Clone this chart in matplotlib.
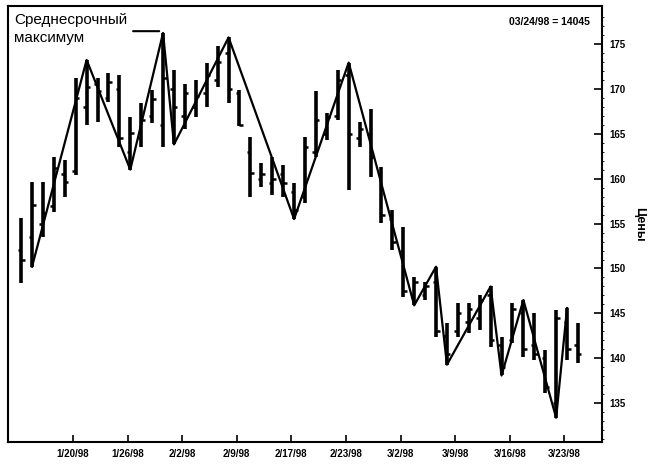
import numpy as np
import matplotlib
matplotlib.use("Agg")
import matplotlib.pyplot as plt

# daily bars
highs = [155.6, 159.6, 159.6, 162.4, 162.1, 171.2, 173.2, 171.2, 171.8, 171.5,
         166.9, 168.4, 169.9, 176.2, 172.1, 170.5, 171.0, 172.9, 174.7, 175.7,
         169.9, 164.6, 161.7, 162.4, 161.5, 159.5, 164.6, 169.7, 167.3, 172.1,
         172.9, 166.3, 167.7, 161.3, 156.5, 154.6, 149.0, 148.5, 150.2, 143.9,
         146.2, 146.2, 147.1, 148.0, 142.4, 146.2, 146.5, 145.0, 140.9, 145.4,
         145.6, 143.9]
lows = [148.4, 150.2, 153.5, 156.3, 157.9, 160.4, 166.0, 166.3, 168.5, 163.5,
        161.0, 163.5, 166.2, 163.5, 163.8, 165.5, 166.9, 168.0, 170.2, 168.4,
        165.8, 158.0, 159.1, 158.2, 158.0, 155.5, 157.3, 162.4, 164.3, 166.5,
        158.7, 163.5, 160.2, 155.1, 152.1, 146.8, 145.9, 146.5, 142.4, 139.3,
        142.4, 142.8, 143.2, 141.3, 138.1, 141.7, 140.1, 139.8, 136.1, 133.4,
        139.8, 139.5]
opens = [152.1, 153.5, 155.0, 157.0, 160.5, 160.8, 168.0, 170.5, 169.0, 170.0,
         163.0, 164.5, 167.0, 166.0, 170.0, 167.0, 168.0, 169.5, 171.0, 174.0,
         169.5, 163.0, 160.0, 159.5, 160.5, 158.5, 158.0, 163.0, 165.0, 167.0,
         171.5, 164.5, 165.0, 160.5, 155.5, 152.0, 147.0, 147.0, 148.5, 142.5,
         143.0, 144.0, 144.5, 147.0, 141.5, 142.0, 145.0, 141.5, 140.0, 135.0,
         144.0, 141.5]
closes = [151.0, 157.1, 156.2, 161.2, 159.6, 169.0, 170.2, 169.7, 170.8, 164.5,
          165.1, 166.5, 168.8, 171.2, 168.0, 169.5, 169.2, 171.5, 173.0, 170.0,
          166.0, 160.6, 160.5, 160.0, 159.5, 156.5, 163.5, 166.5, 166.8, 171.0,
          165.0, 165.5, 162.4, 156.0, 153.0, 147.5, 148.5, 148.0, 143.0, 140.5,
          145.0, 145.5, 146.5, 142.0, 139.0, 145.5, 141.0, 140.5, 136.8, 144.5,
          141.0, 140.5]

# swing (zigzag) line: bar index and price
swing_idx = [1, 6, 10, 13, 14, 19, 25, 30, 36, 38, 39, 43, 44, 46, 49, 50]
swing_px = [150.2, 173.2, 161.0, 176.2, 163.8, 175.7, 155.5, 172.9, 145.9,
            150.2, 139.3, 148.0, 138.1, 146.5, 133.4, 145.6]

date_labels = ["1/20/98", "1/26/98", "2/2/98", "2/9/98", "2/17/98",
               "2/23/98", "3/2/98", "3/9/98", "3/16/98", "3/23/98"]
price_ticks = [135, 140, 145, 150, 155, 160, 165, 170, 175]

idx = np.arange(len(highs))

fig = plt.figure(figsize=(6.58, 4.69), dpi=100)
ax = fig.add_axes([8 / 658, 1 - 442 / 469, (602 - 8) / 658, (442 - 6) / 469])

# OHLC bars
ax.vlines(idx, lows, highs, color="black", lw=2.6)
ax.hlines(opens, idx - 0.32, idx, color="black", lw=1.8)
ax.hlines(closes, idx, idx + 0.32, color="black", lw=1.8)

# zigzag
ax.plot(swing_idx, swing_px, color="black", lw=1.6)

ax.set_xlim(-1.2, 53.2)
ax.set_ylim(130.7, 179.2)

tick_font = ["Liberation Sans Narrow", "Liberation Sans", "DejaVu Sans"]

ax.set_xticks(np.arange(len(date_labels)) * 5 + 4.75)
ax.set_xticklabels(date_labels, fontsize=7, fontweight="bold", family=tick_font)
ax.tick_params(axis="x", direction="in", length=5, width=1.2, pad=5)

ax.yaxis.tick_right()
ax.set_yticks(price_ticks)
ax.set_yticklabels([str(p) for p in price_ticks], fontsize=7, fontweight="bold", family=tick_font)
ax.set_yticks(np.arange(131, 179), minor=True)
ax.tick_params(axis="y", which="major", direction="in", length=6, width=1.2, pad=5)
ax.tick_params(axis="y", which="minor", direction="out", length=1.5, width=0.6)
ax.tick_params(axis="x", which="minor", bottom=False)

for s in ax.spines.values():
    s.set_linewidth(1.5)
    s.set_color("black")

ax.yaxis.set_label_position("right")
ax.set_ylabel("Цены", rotation=270, fontsize=9, fontweight="bold", labelpad=14,
              family=["Liberation Sans", "DejaVu Sans"])

ax.text(0.01, 0.985, "Среднесрочный\nмаксимум", transform=ax.transAxes,
        ha="left", va="top", fontsize=11, linespacing=1.45,
        family=["Liberation Sans", "DejaVu Sans"])
ax.annotate("", xy=(12.9, 176.4), xytext=(10.0, 176.4),
            arrowprops=dict(arrowstyle="-", lw=1.5, color="black"))

ax.text(0.98, 0.975, "03/24/98 = 14045", transform=ax.transAxes,
        ha="right", va="top", fontsize=7.5, fontweight="bold", family=tick_font)

fig.savefig("out.png", dpi=100)
